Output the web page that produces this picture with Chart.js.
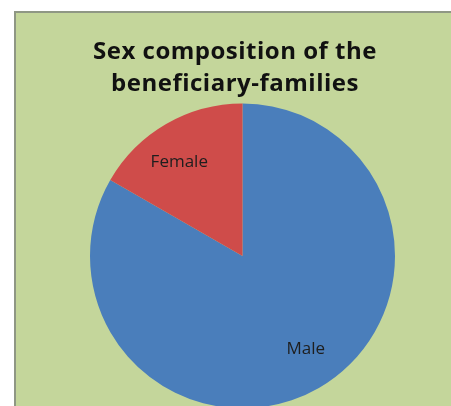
<!DOCTYPE html>
<html>
<head>
<meta charset="utf-8">
<script src="https://cdn.jsdelivr.net/npm/chart.js@4"></script>
<style>
  html, body { margin: 0; padding: 0; background: #fff; overflow: hidden; width: 451px; height: 406px; }
  #box {
    position: absolute; left: 14px; top: 11px; width: 437px; height: 400px;
    background: #c4d69b; border-left: 2px solid #8f9784; border-top: 2px solid #8f9784;
    box-sizing: border-box;
  }
  #wrap { position: absolute; left: 0; top: 0; width: 435px; height: 400px; }
</style>
</head>
<body>
<div id="box"><div id="wrap"><canvas id="chart"></canvas></div></div>
<script>
const titleLines = ['Sex composition of the', 'beneficiary-families']
const categories = ['Male', 'Female']
const shares = [83.3, 16.7]
const sliceColors = ['#4a7ebb', '#cf4c4a']

// title drawn by hand so it can sit a little left of the pie centre
const titlePlugin = {
  id: 'twoLineTitle',
  afterDraw: (chart) => {
    const ctx = chart.ctx
    ctx.save()
    ctx.fillStyle = '#111'
    ctx.font = 'bold 24px "Open Sans"'
    ctx.letterSpacing = '0.5px'
    ctx.textAlign = 'center'
    ctx.textBaseline = 'alphabetic'
    titleLines.forEach((line, i) => {
      ctx.fillText(line, 219, 46 + i * 32)
    })
    ctx.restore()
  }
}

const sliceLabels = {
  id: 'sliceLabels',
  afterDatasetsDraw: (chart) => {
    const ctx = chart.ctx
    const meta = chart.getDatasetMeta(0)
    ctx.save()
    ctx.fillStyle = '#1e1e1e'
    ctx.font = '17px "Open Sans"'
    ctx.textAlign = 'center'
    ctx.textBaseline = 'middle'
    meta.data.forEach((arc, i) => {
      const { x, y, startAngle, endAngle, outerRadius } = arc.getProps(['x', 'y', 'startAngle', 'endAngle', 'outerRadius'], true)
      const mid = (startAngle + endAngle) / 2 - 0.07
      const d = outerRadius * 0.74
      ctx.fillText(categories[i], x + Math.cos(mid) * d, y + Math.sin(mid) * d)
    })
    ctx.restore()
  }
}

new Chart(document.getElementById('chart'), {
  type: 'pie',
  data: {
    labels: categories,
    datasets: [{
      data: shares,
      backgroundColor: sliceColors,
      borderWidth: 0
    }]
  },
  options: {
    responsive: true,
    maintainAspectRatio: false,
    animation: false,
    layout: { padding: { top: 90.5, bottom: 4.5, left: 18, right: 0 } },
    plugins: {
      legend: { display: false },
      title: { display: false },
      tooltip: { enabled: false }
    }
  },
  plugins: [titlePlugin, sliceLabels]
})
</script>
</body>
</html>
